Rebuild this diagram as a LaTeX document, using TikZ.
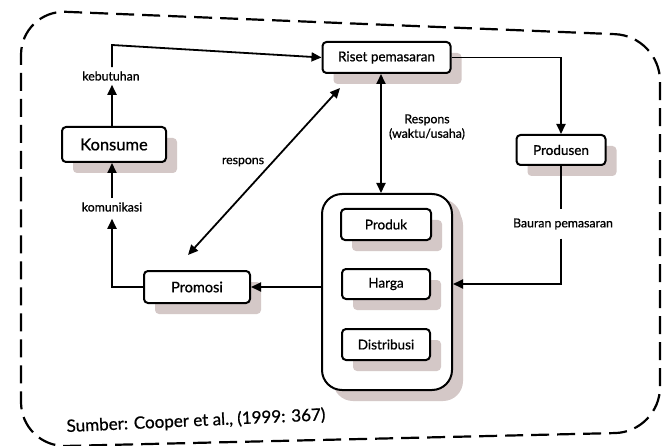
\documentclass[tikz,border=0pt]{standalone}
\usepackage{fontspec}
\setmainfont{Lato}[FakeBold=0.8]
\usetikzlibrary{arrows.meta,shadows}
\definecolor{shade}{RGB}{212,200,199}
\begin{document}
\begin{tikzpicture}[x=1pt,y=-1pt,
  box/.style={draw, line width=2pt, rounded corners=4pt, fill=white,
    font=\fontsize{13.5}{15}\selectfont,
    drop shadow={shadow xshift=11pt, shadow yshift=-11pt, fill=shade, opacity=1}},
  lbl/.style={font=\fontsize{12.3}{14.5}\selectfont, inner sep=4pt},
  arr/.style={line width=1.8pt, -{Triangle[length=10pt,width=9pt]}},
  darr/.style={line width=1.8pt, {Triangle[length=10pt,width=9pt]}-{Triangle[length=10pt,width=9pt]}},
  plain/.style={line width=1.8pt}]
\fill[white] (0,0) rectangle (663,446);
\useasboundingbox (0,0) rectangle (663,446);
% dashed frame
\draw[line width=2.2pt, dash pattern=on 18pt off 8pt, rounded corners=45pt]
  (21,240) -- (21,10) -- (660,36) -- (660,432) -- (21,447) -- cycle;
% boxes
\node[box, minimum width=128pt, minimum height=31pt] (riset) at (386.5,57.5) {Riset pemasaran};
\node[box, minimum width=104pt, minimum height=35pt, font=\fontsize{16.5}{18}\selectfont] (konsume) at (114,144.5) {Konsume};
\node[box, minimum width=89pt, minimum height=30pt] (produsen) at (561,150) {Produsen};
\node[box, minimum width=106pt, minimum height=32pt, font=\fontsize{14.5}{16}\selectfont] (promosi) at (197,287) {Promosi};
\node[box, minimum width=130pt, minimum height=196pt, rounded corners=20pt,
  drop shadow={shadow xshift=9pt, shadow yshift=-5pt, fill=shade, opacity=1}] (cont) at (387,292) {};
\node[box, minimum width=90pt, minimum height=31pt] (produk) at (386,224.5) {Produk};
\node[box, minimum width=88pt, minimum height=30pt] (harga) at (386,284) {Harga};
\node[box, minimum width=88pt, minimum height=31pt] (distribusi) at (386,344.5) {Distribusi};
% labels
\node[lbl] (kebutuhan) at (111,76) {kebutuhan};
\node[lbl] (komunikasi) at (112,207) {komunikasi};
\node[lbl] (respons) at (243,162) {respons};
\node[lbl, align=center] (resp2) at (427,127) {Respons\\(waktu/usaha)};
\node[lbl, inner sep=9pt] (bauran) at (563,224) {Bauran pemasaran};
\node[font=\fontsize{17}{19}\selectfont, rotate=2.6] (sumber) at (196,421) {Sumber: Cooper et al., (1999: 367)};
% coordinates
\coordinate (kt) at (112,45);
\coordinate (vx) at (381,0);
\coordinate (r1) at (340,88);
\coordinate (r2) at (188,255);
% connectors
\draw[arr] (konsume.north -| kt) -- (kebutuhan.south -| kt);
\draw[arr] (kebutuhan.north -| kt) -- (kt) -- (riset.west);
\draw[arr] (komunikasi.north) -- (konsume.south -| komunikasi);
\draw[arr, shorten >=3pt] (promosi.west) -| (komunikasi.south);
\draw[darr] (riset.south -| vx) -- (cont.north -| vx);
\draw[darr] (r1) -- (r2);
\draw[arr] (riset.east) -| (produsen.north);
\draw[plain] (produsen.south) -- (produsen.south |- bauran.north);
\draw[arr] (bauran.south -| produsen.south) |- (cont.east |- harga);
\draw[arr] (cont.west |- promosi) -- (promosi.east);
\end{tikzpicture}
\end{document}
